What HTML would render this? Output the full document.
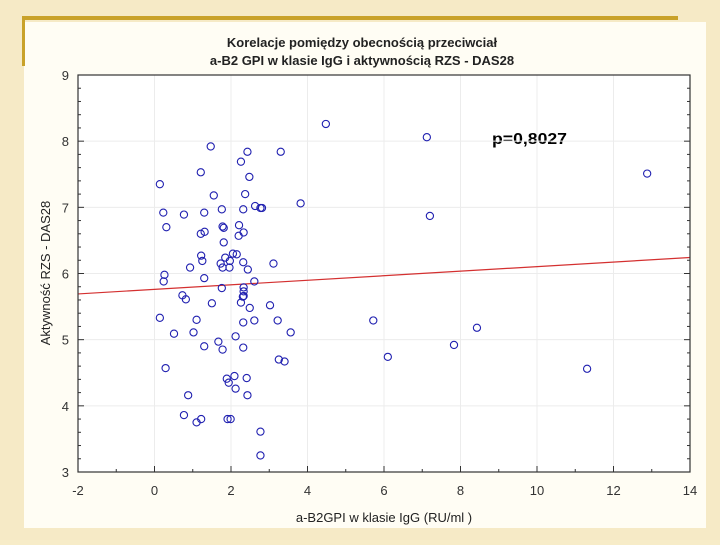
<!DOCTYPE html>
<html><head><meta charset="utf-8">
<style>
body{margin:0;width:720px;height:540px;overflow:hidden;background:#f7ecc8;font-family:"Liberation Sans",Arial,sans-serif;}
</style></head>
<body>
<svg width="720" height="540" xmlns="http://www.w3.org/2000/svg" id="svg">
<rect x="0" y="0" width="720" height="540" fill="#f6eac6"/>
<rect x="24" y="22" width="682" height="506" fill="#fffdf4"/>
<rect x="22" y="16" width="656" height="4" fill="#c9a22a"/>
<rect x="22" y="16" width="3" height="50" fill="#c9a22a"/>
<rect x="78" y="75" width="612" height="397" fill="#ffffff"/>
<text x="362" y="47" text-anchor="middle" font-size="13" font-weight="bold" fill="#222">Korelacje pomiędzy obecnością przeciwciał</text>
<text x="362" y="65" text-anchor="middle" font-size="13" font-weight="bold" fill="#222">a-B2 GPI w klasie IgG i aktywnością RZS - DAS28</text>
<text x="384" y="522" text-anchor="middle" font-size="13" fill="#222">a-B2GPI w klasie IgG (RU/ml )</text>
<text transform="translate(50,273) rotate(-90)" text-anchor="middle" font-size="13" fill="#222">Aktywność RZS - DAS28</text>
<text x="492" y="144" font-size="16" font-weight="bold" fill="#000" textLength="75" lengthAdjust="spacingAndGlyphs">p=0,8027</text>
<g id="grid"></g><g id="axes"></g><g id="marks"></g>
<rect x="78" y="75" width="612" height="397" fill="none" stroke="#333" stroke-width="1.2"/>
</svg>
<script>
const xTicks=[-2,0,2,4,6,8,10,12,14];
const yTicks=[3,4,5,6,7,8,9];
const xVals=[1.47,2.43,3.30,2.26,1.21,2.48,0.14,1.55,2.37,3.82,0.23,0.77,1.30,1.76,2.32,2.63,2.77,2.81,0.31,1.21,1.31,1.78,1.81,2.21,2.33,2.20,1.81,1.22,1.25,0.93,1.85,2.05,2.15,1.73,1.97,1.78,1.96,2.32,2.44,3.11,0.26,0.24,1.30,2.61,1.76,2.33,2.33,0.73,0.82,2.33,2.31,1.50,2.26,2.49,3.02,0.14,1.10,2.61,3.22,2.32,5.72,0.51,1.02,3.56,2.12,1.67,1.30,1.78,2.32,3.25,3.40,0.29,1.89,2.09,2.41,1.94,2.12,0.88,2.43,0.77,1.10,1.22,1.91,1.99,2.77,2.77,4.48,7.12,7.20,12.88,6.10,7.83,8.43,11.31];
const yVals=[7.92,7.84,7.84,7.69,7.53,7.46,7.35,7.18,7.20,7.06,6.92,6.89,6.92,6.97,6.97,7.02,6.99,6.99,6.70,6.60,6.63,6.71,6.69,6.73,6.62,6.57,6.47,6.27,6.19,6.09,6.24,6.30,6.29,6.15,6.19,6.09,6.09,6.17,6.06,6.15,5.98,5.88,5.93,5.88,5.78,5.79,5.73,5.67,5.61,5.66,5.65,5.55,5.56,5.48,5.52,5.33,5.30,5.29,5.29,5.26,5.29,5.09,5.11,5.11,5.05,4.97,4.90,4.85,4.88,4.70,4.67,4.57,4.41,4.45,4.42,4.35,4.26,4.16,4.16,3.86,3.75,3.80,3.80,3.80,3.61,3.25,8.26,8.06,6.87,7.51,4.74,4.92,5.18,4.56];
const fitIntercept=[5.76];
const fitSlope=[0.0344];
const NS='http://www.w3.org/2000/svg';
const L=78,R=690,T=75,B=472;
const sx=v=>L+(v+2)/16*(R-L);
const sy=v=>B-(v-3)/6*(B-T);
function mk(tag,attrs,parent){const e=document.createElementNS(NS,tag);for(const k in attrs)e.setAttribute(k,attrs[k]);document.getElementById(parent).appendChild(e);return e;}
xTicks.forEach(t=>{
 const x=sx(t);
 const g=mk('line',{x1:x,x2:x,y1:T,y2:B,stroke:'#ececec','stroke-width':1},'grid');
 
 
 const tk=mk('line',{x1:x,x2:x,y1:B,y2:B-6,stroke:'#333'},'axes');
 
 
 const m=mk('line',{x1:sx(t+1),x2:sx(t+1),y1:B,y2:B-3,stroke:'#333'},'axes');
 
 
 const lb=mk('text',{x:x,y:B+23,'text-anchor':'middle','font-size':13,fill:'#333'},'axes');lb.textContent=t;
 
 
});
yTicks.forEach(t=>{
 const y=sy(t);
 const g=mk('line',{x1:L,x2:R,y1:y,y2:y,stroke:'#ececec','stroke-width':1},'grid');
 
 
 [[L,L+6],[R,R-6]].forEach(p=>{const tk=mk('line',{x1:p[0],x2:p[1],y1:y,y2:y,stroke:'#333'},'axes');
 
 });
 for(let k=1;k<5;k++){const ym=sy(t+k*0.2);if(t<9){[[L,L+3],[R,R-3]].forEach(p=>{const m=mk('line',{x1:p[0],x2:p[1],y1:ym,y2:ym,stroke:'#333'},'axes');
 
 });}}
 const lb=mk('text',{x:L-9,y:y+5,'text-anchor':'end','font-size':13,fill:'#333'},'axes');lb.textContent=t;
 
 
});
const fl=mk('line',{x1:sx(-2),y1:sy(fitIntercept[0]+fitSlope[0]*-2),x2:sx(14),y2:sy(fitIntercept[0]+fitSlope[0]*14),stroke:'#d43030','stroke-width':1.2},'marks');


xVals.forEach((v,i)=>{
 const c=mk('circle',{cx:sx(v),cy:sy(yVals[i]),r:3.6,fill:'none',stroke:'#2020b0','stroke-width':1.1},'marks');
 
 
});
</script>
</body></html>
